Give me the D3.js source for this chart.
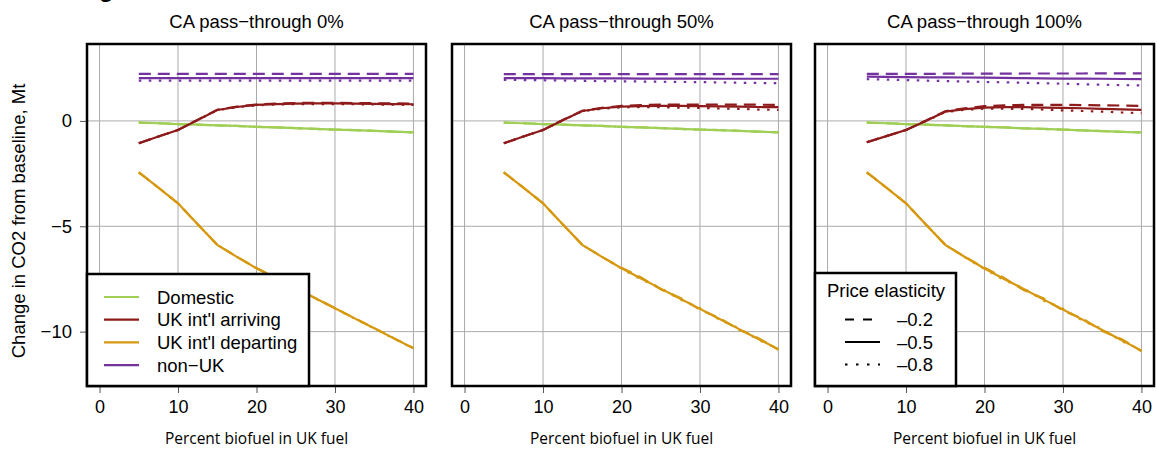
<!DOCTYPE html>
<html>
<head>
<meta charset="utf-8">
<script src="https://cdn.jsdelivr.net/npm/d3@7"></script>
<style>
  body { margin: 0; background: #fff; }
  text { font-family: "Liberation Sans", Arial, sans-serif; }
</style>
</head>
<body>
<div id="chart-container"></div>
<script>
// ---- data ----
const biofuel = [5, 7.5, 10, 12.5, 15, 17.5, 20, 22.5, 25, 27.5, 30, 32.5, 35, 37.5, 40];
const panelTitles = ["CA pass\u2212through 0%", "CA pass\u2212through 50%", "CA pass\u2212through 100%"];
const seriesNames = ["Domestic", "UK int'l arriving", "UK int'l departing", "non\u2212UK"];
const elasticityLabels = ["\u20130.2", "\u20130.5", "\u20130.8"];
const xTicks = [0, 10, 20, 30, 40];
const yTicks = [0, -5, -10];

// Domestic (the three elasticities overlap)
const domesticP0 = [-0.08, -0.11, -0.15, -0.18, -0.21, -0.24, -0.28, -0.31, -0.34, -0.38, -0.41, -0.44, -0.47, -0.51, -0.54];
const domesticP1 = [-0.08, -0.11, -0.15, -0.18, -0.21, -0.24, -0.28, -0.31, -0.34, -0.38, -0.41, -0.44, -0.47, -0.51, -0.54];
const domesticP2 = [-0.08, -0.11, -0.15, -0.18, -0.21, -0.25, -0.28, -0.31, -0.35, -0.38, -0.41, -0.45, -0.48, -0.52, -0.55];

// UK int'l arriving: elasticity -0.2 / -0.5 / -0.8
const arrivingP0a = [-1.06, -0.74, -0.43, 0.05, 0.53, 0.68, 0.78, 0.82, 0.85, 0.86, 0.86, 0.85, 0.84, 0.83, 0.82];
const arrivingP0b = [-1.06, -0.74, -0.43, 0.04, 0.52, 0.66, 0.76, 0.80, 0.82, 0.83, 0.83, 0.82, 0.81, 0.80, 0.79];
const arrivingP0c = [-1.06, -0.74, -0.43, 0.04, 0.51, 0.65, 0.74, 0.78, 0.80, 0.80, 0.80, 0.79, 0.78, 0.77, 0.76];
const arrivingP1a = [-1.06, -0.74, -0.43, 0.04, 0.48, 0.62, 0.71, 0.75, 0.77, 0.78, 0.78, 0.78, 0.77, 0.77, 0.76];
const arrivingP1b = [-1.06, -0.74, -0.43, 0.03, 0.47, 0.60, 0.68, 0.70, 0.71, 0.71, 0.70, 0.69, 0.68, 0.66, 0.65];
const arrivingP1c = [-1.06, -0.74, -0.43, 0.02, 0.46, 0.58, 0.65, 0.66, 0.65, 0.63, 0.62, 0.59, 0.57, 0.54, 0.52];
const arrivingP2a = [-1.01, -0.72, -0.43, 0.01, 0.46, 0.60, 0.70, 0.74, 0.76, 0.76, 0.76, 0.75, 0.74, 0.73, 0.71];
const arrivingP2b = [-1.01, -0.72, -0.43, 0.00, 0.44, 0.56, 0.63, 0.65, 0.65, 0.63, 0.62, 0.60, 0.57, 0.55, 0.52];
const arrivingP2c = [-1.01, -0.72, -0.43, -0.01, 0.42, 0.53, 0.58, 0.58, 0.57, 0.54, 0.50, 0.47, 0.44, 0.40, 0.37];

// UK int'l departing
const departingP0a = [-2.44, -3.17, -3.91, -4.90, -5.88, -6.45, -6.98, -7.46, -7.93, -8.41, -8.88, -9.36, -9.83, -10.31, -10.78];
const departingP0b = [-2.44, -3.17, -3.91, -4.90, -5.88, -6.45, -6.99, -7.47, -7.94, -8.42, -8.89, -9.37, -9.84, -10.32, -10.79];
const departingP0c = [-2.44, -3.17, -3.91, -4.90, -5.88, -6.45, -7.00, -7.48, -7.95, -8.43, -8.90, -9.38, -9.85, -10.33, -10.80];
const departingP1a = [-2.44, -3.17, -3.91, -4.90, -5.88, -6.45, -6.97, -7.43, -7.99, -8.40, -8.95, -9.36, -9.91, -10.32, -10.86];
const departingP1b = [-2.44, -3.17, -3.91, -4.90, -5.88, -6.45, -6.99, -7.48, -7.96, -8.44, -8.92, -9.40, -9.88, -10.36, -10.84];
const departingP1c = [-2.44, -3.17, -3.91, -4.90, -5.88, -6.45, -7.01, -7.52, -7.93, -8.48, -8.89, -9.44, -9.85, -10.40, -10.82];
const departingP2a = [-2.44, -3.17, -3.91, -4.90, -5.88, -6.45, -6.97, -7.45, -8.03, -8.42, -9.00, -9.38, -9.97, -10.36, -10.93];
const departingP2b = [-2.44, -3.17, -3.91, -4.90, -5.88, -6.46, -7.00, -7.50, -7.98, -8.47, -8.95, -9.43, -9.92, -10.41, -10.90];
const departingP2c = [-2.44, -3.17, -3.91, -4.90, -5.88, -6.47, -7.03, -7.55, -7.94, -8.52, -8.91, -9.48, -9.88, -10.46, -10.87];

// non-UK
const nonUkP0a = [2.23, 2.23, 2.23, 2.23, 2.23, 2.23, 2.23, 2.23, 2.23, 2.23, 2.23, 2.23, 2.23, 2.23, 2.23];
const nonUkP0b = [2.03, 2.03, 2.03, 2.03, 2.03, 2.03, 2.03, 2.03, 2.03, 2.03, 2.03, 2.03, 2.03, 2.03, 2.03];
const nonUkP0c = [1.91, 1.91, 1.91, 1.91, 1.91, 1.91, 1.91, 1.91, 1.91, 1.91, 1.91, 1.91, 1.91, 1.91, 1.91];
const nonUkP1a = [2.22, 2.22, 2.22, 2.22, 2.22, 2.22, 2.22, 2.22, 2.22, 2.22, 2.22, 2.22, 2.22, 2.22, 2.22];
const nonUkP1b = [2.03, 2.03, 2.03, 2.02, 2.02, 2.02, 2.02, 2.01, 2.01, 2.01, 2.01, 2.00, 2.00, 2.00, 2.00];
const nonUkP1c = [1.95, 1.94, 1.93, 1.92, 1.90, 1.89, 1.88, 1.87, 1.86, 1.85, 1.84, 1.83, 1.81, 1.80, 1.79];
const nonUkP2a = [2.23, 2.23, 2.23, 2.23, 2.24, 2.24, 2.24, 2.24, 2.25, 2.25, 2.25, 2.25, 2.26, 2.26, 2.26];
const nonUkP2b = [2.10, 2.09, 2.08, 2.07, 2.07, 2.06, 2.05, 2.04, 2.03, 2.02, 2.01, 2.01, 2.00, 1.99, 1.98];
const nonUkP2c = [1.98, 1.96, 1.94, 1.91, 1.89, 1.87, 1.85, 1.83, 1.81, 1.79, 1.77, 1.74, 1.72, 1.70, 1.68];

// ---- styling ----
const seriesColors = ["#9fcf55", "#8e1b1b", "#d5980e", "#7432a0"];
const dashStyles = ["12,7", null, "2.5,7.5"];
const legendDash = ["9,9", null, "2.5,8.5"];

// one entry per panel: [series][elasticity]
const panelData = [
    [[domesticP0, domesticP0, domesticP0], [arrivingP0a, arrivingP0b, arrivingP0c], [departingP0a, departingP0b, departingP0c], [nonUkP0a, nonUkP0b, nonUkP0c]],
    [[domesticP1, domesticP1, domesticP1], [arrivingP1a, arrivingP1b, arrivingP1c], [departingP1a, departingP1b, departingP1c], [nonUkP1a, nonUkP1b, nonUkP1c]],
    [[domesticP2, domesticP2, domesticP2], [arrivingP2a, arrivingP2b, arrivingP2c], [departingP2a, departingP2b, departingP2c], [nonUkP2a, nonUkP2b, nonUkP2c]]
];

const width = 1157;
const height = 450;
const panelLefts = [87, 452, 815];
const panelWidth = 339;
const panelTop = 44;
const panelBottom = 386;

const svg = d3.select("#chart-container").append("svg")
    .attr("width", width)
    .attr("height", height);

// cut-off caption glyph at the very top
svg.append("text")
    .attr("x", 99)
    .attr("y", -3)
    .attr("font-size", "24px")
    .attr("font-weight", "bold")
    .text("g");

const y = d3.scaleLinear()
    .domain([-12.58, 3.65])
    .range([panelBottom, panelTop]);

panelData.forEach((seriesSet, p) => {
    const left = panelLefts[p];
    const x = d3.scaleLinear()
        .domain([-1.6, 41.6])
        .range([left, left + panelWidth]);

    const g = svg.append("g");

    // title
    g.append("text")
        .attr("x", left + panelWidth / 2)
        .attr("y", 28)
        .attr("text-anchor", "middle")
        .attr("font-size", "18.5px")
        .text(panelTitles[p]);

    // grid
    g.append("g").selectAll("line")
        .data(xTicks)
        .join("line")
        .attr("x1", d => x(d)).attr("x2", d => x(d))
        .attr("y1", panelTop).attr("y2", panelBottom)
        .attr("stroke", "#ababab").attr("stroke-width", 1);
    g.append("g").selectAll("line")
        .data(yTicks)
        .join("line")
        .attr("x1", left).attr("x2", left + panelWidth)
        .attr("y1", d => y(d)).attr("y2", d => y(d))
        .attr("stroke", "#ababab").attr("stroke-width", 1);

    // x axis
    const xAxis = g.append("g")
        .attr("transform", `translate(0,${panelBottom})`)
        .call(d3.axisBottom(x).tickValues(xTicks).tickSize(7).tickPadding(7));
    xAxis.select(".domain").remove();
    xAxis.selectAll(".tick line").attr("stroke", "#555");
    xAxis.selectAll("text")
        .attr("font-size", "18px")
        .attr("font-family", "Liberation Sans, Arial, sans-serif")
        .attr("fill", "#000");

    g.append("text")
        .attr("x", left + panelWidth / 2)
        .attr("y", 444)
        .attr("text-anchor", "middle")
        .style("font-family", "'Open Sans', sans-serif")
        .attr("font-size", "15.5px")
        .text("Percent biofuel in UK fuel");

    if (p === 0) {
        const yAxis = g.append("g")
            .attr("transform", `translate(${left},0)`)
            .call(d3.axisLeft(y).tickValues(yTicks).tickSize(7).tickPadding(8));
        yAxis.select(".domain").remove();
        yAxis.selectAll(".tick line").attr("stroke", "#555");
        yAxis.selectAll("text")
            .attr("font-size", "18.5px")
            .attr("font-family", "Liberation Sans, Arial, sans-serif")
            .attr("fill", "#000");

        g.append("text")
            .attr("transform", `translate(25,${(panelTop + panelBottom) / 2 + 6}) rotate(-90)`)
            .attr("text-anchor", "middle")
            .attr("font-size", "18.5px")
            .text("Change in CO2 from baseline, Mt");
    }

    // lines
    const line = d3.line()
        .x((d, i) => x(biofuel[i]))
        .y(d => y(d));

    seriesSet.forEach((variants, s) => {
        variants.forEach((values, e) => {
            g.append("path")
                .datum(values)
                .attr("d", line)
                .attr("fill", "none")
                .attr("stroke", seriesColors[s])
                .attr("stroke-width", 2.2)
                .attr("stroke-dasharray", dashStyles[e]);
        });
    });

    // frame
    g.append("rect")
        .attr("x", left)
        .attr("y", panelTop)
        .attr("width", panelWidth)
        .attr("height", panelBottom - panelTop)
        .attr("fill", "none")
        .attr("stroke", "#000")
        .attr("stroke-width", 2.5);
});

// series legend (first panel)
const legend1 = svg.append("g");
legend1.append("rect")
    .attr("x", 87).attr("y", 274)
    .attr("width", 222).attr("height", 112)
    .attr("fill", "#fff")
    .attr("stroke", "#000")
    .attr("stroke-width", 2.5);
seriesNames.forEach((name, i) => {
    const ly = 297 + i * 22.7;
    legend1.append("line")
        .attr("x1", 104).attr("x2", 139)
        .attr("y1", ly).attr("y2", ly)
        .attr("stroke", seriesColors[i])
        .attr("stroke-width", 2.2);
    legend1.append("text")
        .attr("x", 157).attr("y", ly + 6.5)
        .attr("font-size", "18.5px")
        .text(name);
});

// elasticity legend (third panel)
const legend2 = svg.append("g");
legend2.append("rect")
    .attr("x", 815).attr("y", 273)
    .attr("width", 141).attr("height", 113)
    .attr("fill", "#fff")
    .attr("stroke", "#000")
    .attr("stroke-width", 2.5);
legend2.append("text")
    .attr("x", 886).attr("y", 297)
    .attr("text-anchor", "middle")
    .attr("font-size", "18.5px")
    .text("Price elasticity");
elasticityLabels.forEach((label, i) => {
    const ly = 319.5 + i * 22.5;
    legend2.append("line")
        .attr("x1", 845).attr("x2", 880)
        .attr("y1", ly).attr("y2", ly)
        .attr("stroke", "#000")
        .attr("stroke-width", 2.2)
        .attr("stroke-dasharray", legendDash[i]);
    legend2.append("text")
        .attr("x", 897).attr("y", ly + 6.5)
        .attr("font-size", "18.5px")
        .text(label);
});
</script>
</body>
</html>
